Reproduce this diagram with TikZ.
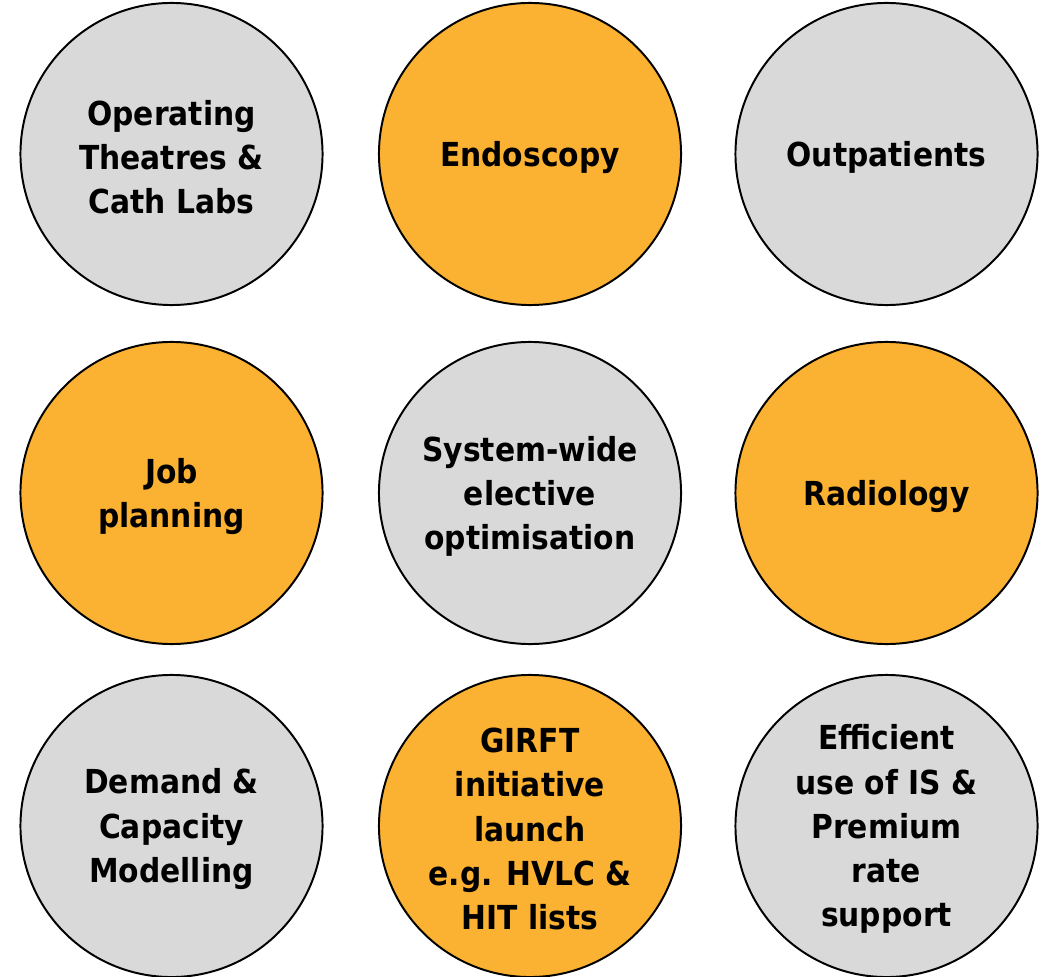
\documentclass[tikz,border=0pt]{standalone}
\usepackage{fontspec}
\setmainfont{DejaVu Sans}[FakeStretch=0.9]
\definecolor{tilegrey}{HTML}{D9D9D9}
\definecolor{tileorange}{HTML}{FBB131}
\begin{document}
\begin{tikzpicture}[x = 0.025cm, y = -0.025cm, line width = 1.4pt]
    \tikzstyle{tile}=[circle, draw = black, minimum size=7.55cm, inner sep=0pt]
    \tikzstyle{tiletext}=[align=center, inner sep=0pt, yshift=-0.08cm,
        font=\fontsize{23.5}{31.5}\selectfont\bfseries]
    \useasboundingbox (0,0) rectangle (1046,977);

    \foreach \name/\x/\y/\col/\txt in {
        theatres/171.5/154/tilegrey/{Operating\\Theatres \&\\Cath Labs},
        endoscopy/530/154/tileorange/{Endoscopy},
        outpatients/886.5/154/tilegrey/{Outpatients},
        jobs/171.5/493/tileorange/{Job\\planning},
        system/530/493/tilegrey/{System-wide\\elective\\optimisation},
        radiology/886.5/493/tileorange/{Radiology},
        demand/171.5/826/tilegrey/{Demand \&\\Capacity\\Modelling},
        girft/530/826/tileorange/{GIRFT\\initiative\\launch\\e.g. HVLC \&\\HIT lists},
        premium/886.5/826/tilegrey/{Efficient\\use of IS \&\\Premium\\rate\\support}}
    {
    \node[tile, fill=\col] (T-\name) at (\x,\y) {};
    \node[tiletext] (L-\name) at (T-\name) {\txt};
    }
\end{tikzpicture}
\end{document}
